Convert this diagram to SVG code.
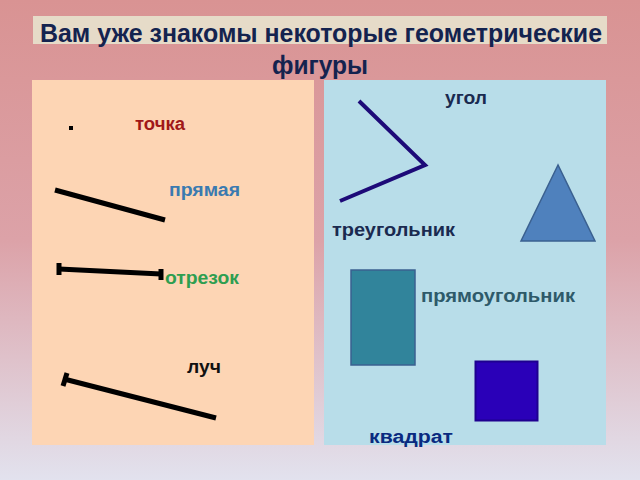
<svg xmlns="http://www.w3.org/2000/svg" width="640" height="480" viewBox="0 0 640 480">
<defs>
<linearGradient id="bg" x1="0" y1="0" x2="0" y2="1">
<stop offset="0" stop-color="#d99393"/>
<stop offset="0.5" stop-color="#dca2a8"/>
<stop offset="1" stop-color="#e2e2ee"/>
</linearGradient>
<style>
text{font-family:"Liberation Sans",Arial,sans-serif;font-weight:bold}
.title{font-size:25px;fill:#14234f;text-anchor:middle}
.lbl{font-size:18px}
.blk{stroke:#000;stroke-width:5;fill:none}
</style>
</defs>
<rect width="640" height="480" fill="url(#bg)"/>
<rect x="33" y="16" width="574" height="28" fill="#e6dbc8"/>
<text class="title" x="321" y="42" textLength="562" lengthAdjust="spacingAndGlyphs">Вам уже знакомы некоторые геометрические</text>
<text class="title" x="320" y="74" textLength="96" lengthAdjust="spacingAndGlyphs">фигуры</text>
<rect x="32" y="80" width="282" height="365" fill="#fdd5b4"/>
<rect x="324" y="80" width="282" height="365" fill="#b8dde9"/>
<g id="point"><rect x="69" y="126" width="4" height="4" fill="#000"/><text class="lbl" x="135" y="130" fill="#a01818" textLength="50" lengthAdjust="spacingAndGlyphs">точка</text></g>
<g id="line"><line class="blk" x1="55" y1="190" x2="165" y2="220"/><text class="lbl" x="169" y="196" fill="#3a7ab0" textLength="71" lengthAdjust="spacingAndGlyphs">прямая</text></g>
<g id="segment"><line class="blk" x1="59" y1="269" x2="161" y2="274"/><line class="blk" x1="59" y1="263" x2="59" y2="275"/><line class="blk" x1="161" y1="269" x2="161" y2="280"/><text class="lbl" x="165" y="284" fill="#2e9e50" textLength="74" lengthAdjust="spacingAndGlyphs">отрезок</text></g>
<g id="ray"><line class="blk" x1="64" y1="379" x2="216" y2="418"/><line class="blk" x1="67" y1="373" x2="63" y2="386"/><text class="lbl" x="187" y="373" fill="#111" textLength="34" lengthAdjust="spacingAndGlyphs">луч</text></g>
<g id="angle"><polyline points="359,101 425,165 340,201" fill="none" stroke="#1d0a78" stroke-width="4"/><text class="lbl" x="445" y="104" fill="#1a2a50" textLength="42" lengthAdjust="spacingAndGlyphs">угол</text></g>
<g id="triangle"><polygon points="558,165 521,241 595,241" fill="#4f81bd" stroke="#3a6090" stroke-width="1.5"/><text class="lbl" x="332" y="236" fill="#1a2a50" textLength="123" lengthAdjust="spacingAndGlyphs">треугольник</text></g>
<g id="rectangle"><rect x="351" y="270" width="64" height="95" fill="#31849b" stroke="#3a6090" stroke-width="1.5"/><text class="lbl" x="421" y="302" fill="#2e5a6a" textLength="154" lengthAdjust="spacingAndGlyphs">прямоугольник</text></g>
<g id="square"><rect x="475.5" y="361.5" width="62" height="59" fill="#2a00b8" stroke="#1e0090" stroke-width="2"/><text class="lbl" x="369" y="443" fill="#0a2a80" textLength="84" lengthAdjust="spacingAndGlyphs">квадрат</text></g>
</svg>
